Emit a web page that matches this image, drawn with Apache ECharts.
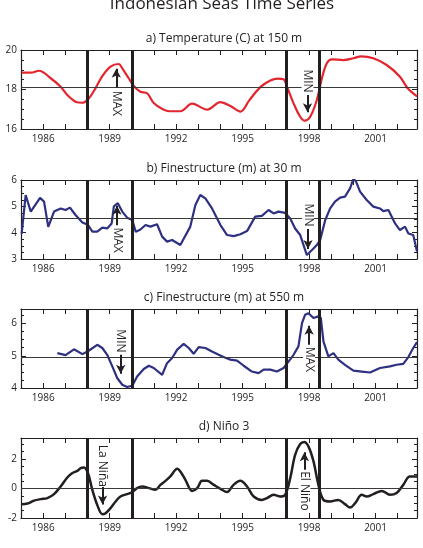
<!DOCTYPE html>
<html>
<head>
<meta charset="utf-8">
<script src="https://cdn.jsdelivr.net/npm/echarts@6/dist/echarts.min.js"></script>
<style>
  html, body { margin: 0; background: #fff; }
  #chart { width: 423px; height: 548px; }
</style>
</head>
<body>
<div id="chart"></div>
<script>
// a) temperature at 150 m
const tempYears = [1985.03, 1985.44, 1985.81, 1986.34, 1986.79, 1987.09, 1987.46, 1987.77, 1988.06, 1988.36,
    1988.67, 1989.04, 1989.41, 1989.57, 1989.86, 1990.09, 1990.39, 1990.69, 1991.0, 1991.4, 1991.7, 1992.19,
    1992.72, 1993.4, 1994.0, 1994.45, 1994.9, 1995.3, 1995.8, 1996.25, 1996.6, 1996.85, 1997.0, 1997.3,
    1997.6, 1997.8, 1998.05, 1998.35, 1998.58, 1998.8, 1999.03, 1999.55, 2000.0, 2000.35, 2000.9, 2001.5,
    2002.1, 2002.45, 2002.87];
const tempValues = [18.85, 18.85, 18.95, 18.57, 18.14, 17.72, 17.38, 17.33, 17.55, 18.06,
    18.68, 19.16, 19.29, 19.07, 18.57, 18.18, 17.89, 17.81, 17.3, 17.0, 16.9, 16.9,
    17.28, 16.98, 17.36, 17.16, 16.88, 17.45, 18.12, 18.46, 18.55, 18.52, 18.14, 17.3,
    16.62, 16.42, 16.62, 17.47, 18.57, 19.33, 19.53, 19.49, 19.58, 19.68, 19.58, 19.24,
    18.65, 18.06, 17.65];

// b) finestructure at 30 m
const fine30Years = [1985.03, 1985.21, 1985.44, 1985.86, 1986.04, 1986.23, 1986.49, 1986.79, 1987.01, 1987.21,
    1987.46, 1987.77, 1988.02, 1988.22, 1988.44, 1988.67, 1988.89, 1989.09, 1989.19, 1989.37, 1989.57, 1989.79,
    1990.02, 1990.18, 1990.39, 1990.62, 1990.84, 1991.14, 1991.37, 1991.59, 1991.82, 1992.19, 1992.64, 1992.87,
    1993.09, 1993.32, 1993.62, 1994.0, 1994.3, 1994.6, 1994.9, 1995.2, 1995.57, 1995.87, 1996.17, 1996.4,
    1996.62, 1996.92, 1997.15, 1997.37, 1997.6, 1997.9, 1998.13, 1998.35, 1998.5, 1998.73, 1998.95, 1999.17,
    1999.4, 1999.62, 1999.85, 2000.0, 2000.12, 2000.3, 2000.6, 2000.9, 2001.2, 2001.35, 2001.58, 2001.88,
    2002.1, 2002.33, 2002.48, 2002.7, 2002.87];
const fine30Values = [3.95, 5.43, 4.8, 5.32, 5.18, 4.22, 4.8, 4.92, 4.86, 4.95,
    4.67, 4.39, 4.3, 4.04, 4.04, 4.19, 4.16, 4.35, 5.0, 5.12, 4.8, 4.57,
    4.48, 4.03, 4.12, 4.29, 4.23, 4.32, 3.85, 3.66, 3.72, 3.53, 4.23, 5.05,
    5.43, 5.3, 4.92, 4.29, 3.91, 3.87, 3.94, 4.06, 4.61, 4.64, 4.86, 4.73,
    4.8, 4.75, 4.54, 4.16, 3.91, 3.15, 3.34, 3.53, 3.72, 4.48, 4.92, 5.18,
    5.33, 5.37, 5.68, 6.05, 5.94, 5.56, 5.24, 4.99, 4.92, 4.82, 4.86, 4.35,
    4.1, 4.23, 3.97, 3.91, 3.28];

// c) finestructure at 550 m
const fine550Years = [1986.64, 1987.01, 1987.39, 1987.77, 1988.02, 1988.44, 1988.67, 1988.89, 1989.12, 1989.34,
    1989.57, 1989.79, 1990.02, 1990.24, 1990.54, 1990.77, 1990.99, 1991.37, 1991.59, 1991.82, 1992.05, 1992.34,
    1992.57, 1992.79, 1993.02, 1993.32, 1993.62, 1993.92, 1994.14, 1994.45, 1994.75, 1995.05, 1995.42, 1995.72,
    1995.95, 1996.25, 1996.55, 1996.85, 1997.07, 1997.3, 1997.52, 1997.68, 1997.82, 1997.97, 1998.2, 1998.42,
    1998.53, 1998.65, 1998.87, 1999.1, 1999.32, 1999.62, 2000.0, 2000.38, 2000.75, 2001.2, 2001.65, 2001.95,
    2002.25, 2002.48, 2002.7, 2002.87];
const fine550Values = [5.08, 5.02, 5.2, 5.05, 5.14, 5.34, 5.24, 5.03, 4.67, 4.31,
    4.1, 4.03, 4.07, 4.36, 4.59, 4.69, 4.62, 4.41, 4.77, 4.93, 5.19, 5.37,
    5.24, 5.06, 5.27, 5.24, 5.13, 5.03, 4.96, 4.88, 4.85, 4.69, 4.51, 4.46,
    4.57, 4.57, 4.51, 4.62, 4.82, 5.03, 5.29, 6.01, 6.27, 6.32, 6.17, 6.22,
    6.17, 5.44, 4.98, 5.08, 4.88, 4.72, 4.54, 4.51, 4.48, 4.62, 4.67, 4.72,
    4.75, 4.96, 5.24, 5.42];

// d) Nino 3
const ninoYears = [1985.03, 1985.29, 1985.59, 1985.89, 1986.19, 1986.49, 1986.79, 1987.09, 1987.32, 1987.54,
    1987.69, 1987.84, 1988.02, 1988.22, 1988.44, 1988.67, 1988.82, 1989.04, 1989.27, 1989.49, 1989.79, 1990.02,
    1990.24, 1990.47, 1990.77, 1991.07, 1991.29, 1991.52, 1991.74, 1992.05, 1992.19, 1992.42, 1992.72, 1992.95,
    1993.17, 1993.4, 1993.7, 1994.0, 1994.3, 1994.59, 1994.9, 1995.2, 1995.5, 1995.87, 1996.1, 1996.4,
    1996.7, 1996.92, 1997.15, 1997.37, 1997.6, 1997.78, 1997.97, 1998.2, 1998.42, 1998.65, 1998.95, 1999.32,
    1999.62, 1999.85, 2000.08, 2000.38, 2000.6, 2000.9, 2001.28, 2001.65, 2001.95, 2002.25, 2002.55, 2002.87];
const ninoValues = [-1.06, -1.02, -0.82, -0.72, -0.65, -0.38, 0.14, 0.75, 1.05, 1.2,
    1.39, 1.43, 1.05, -0.09, -1.11, -1.74, -1.67, -1.33, -0.88, -0.54, -0.38, -0.24,
    0.03, 0.14, 0.03, -0.09, 0.25, 0.52, 0.82, 1.34, 1.16, 0.59, -0.16, 0.03,
    0.52, 0.52, 0.25, -0.02, -0.24, 0.25, 0.52, 0.14, -0.54, -0.77, -0.65, -0.43,
    -0.54, -0.43, 0.71, 2.29, 3.02, 3.16, 2.86, 1.84, 0.25, -0.77, -0.88, -0.77,
    -1.06, -1.29, -0.99, -0.43, -0.54, -0.38, -0.16, -0.43, -0.31, 0.25, 0.82, 0.82];

const panelTitles = ['a) Temperature (C) at 150 m', 'b) Finestructure (m) at 30 m',
    'c) Finestructure (m) at 550 m', 'd) Niño 3'];
const refValues = [18.11, 4.53, 4.94, 0];
const eventYears = [1988.0, 1990.0, 1996.95, 1998.45];

// annotation text + arrow, in data coordinates: [panel, label, year, textY, arrowFrom, arrowTo]
const notes = [
    [0, 'MAX', 1989.3, 17.3, 18.1, 19.05],
    [0, 'MIN', 1997.93, 18.43, 17.72, 16.85],
    [1, 'MAX', 1989.33, 3.72, 4.28, 5.02],
    [1, 'MIN', 1997.95, 4.67, 4.14, 3.38],
    [2, 'MAX', 1998.0, 4.89, 5.34, 5.93],
    [2, 'MIN', 1989.5, 5.46, 5.03, 4.44],
    [3, 'La Niña', 1988.68, 1.54, 0.12, -1.08],
    [3, 'El Niño', 1997.79, -0.16, 1.27, 2.47]
];

const panels = [
    { years: tempYears, values: tempValues, color: '#e3262e', width: 2.2, smooth: 0.35, min: 16, max: 20, interval: 2 },
    { years: fine30Years, values: fine30Values, color: '#2e3082', width: 2.2, smooth: false, min: 3, max: 6, interval: 1 },
    { years: fine550Years, values: fine550Values, color: '#2e3082', width: 2.2, smooth: false, min: 4, max: 6.45, interval: 1 },
    { years: ninoYears, values: ninoValues, color: '#231f20', width: 2.5, smooth: 0.35, min: -2, max: 3.43, interval: 2 }
];
const gridTops = [50, 180, 309, 438];
const gridHeights = [79, 79, 79, 80];

const ink = '#231f20';
const font = '"Open Sans", "Liberation Sans", sans-serif';

let chart = echarts.init(document.getElementById('chart'));

let grids = [], xAxes = [], yAxes = [], series = [], titles = [];

titles.push({
    text: 'Indonesian Seas Time Series',
    left: 217, top: -9, textAlign: 'center',
    textStyle: { fontFamily: font, fontSize: 17, fontWeight: 'normal', color: ink }
});

panels.forEach((p, i) => {
    grids.push({ left: 21, right: 6, top: gridTops[i], height: gridHeights[i] });
    titles.push({
        text: panelTitles[i],
        left: 219, top: gridTops[i] - 22, textAlign: 'center',
        textStyle: { fontFamily: font, fontSize: 12, fontWeight: 'normal', color: ink }
    });

    ['bottom', 'top'].forEach(pos => {
        xAxes.push({
            type: 'value', gridIndex: i, position: pos,
            min: 1985, max: 2002.87, interval: 1,
            axisLine: { show: true, onZero: false, lineStyle: { color: ink, width: 1.2 } },
            axisTick: { show: true, inside: true, length: 5, lineStyle: { color: ink } },
            axisLabel: {
                show: pos === 'bottom', margin: 5, color: ink, fontFamily: font, fontSize: 10,
                formatter: v => ((v - 1986) % 3 === 0 ? String(v) : '')
            },
            splitLine: { show: false }
        });
    });
    ['left', 'right'].forEach(pos => {
        yAxes.push({
            type: 'value', gridIndex: i, position: pos,
            min: p.min, max: p.max, interval: p.interval,
            axisLine: { show: true, onZero: false, lineStyle: { color: ink, width: 1.2 } },
            axisTick: { show: true, inside: true, length: 5, lineStyle: { color: ink } },
            minorTick: { show: true, splitNumber: 4, length: 3, lineStyle: { color: ink } },
            axisLabel: {
                show: pos === 'left', margin: 4, color: ink, fontFamily: font, fontSize: 10,
                showMaxLabel: p.max % p.interval === 0
            },
            splitLine: { show: false }
        });
    });

    let lines = [{ yAxis: refValues[i], lineStyle: { color: '#3a3a3a', width: 1, type: 'solid' } }];
    eventYears.forEach(y => lines.push({ xAxis: y, lineStyle: { color: ink, width: 3, type: 'solid' } }));
    notes.filter(n => n[0] === i).forEach(n => {
        lines.push([
            { coord: [n[2], n[4]], symbol: 'none' },
            { coord: [n[2], n[5]], symbol: 'arrow', symbolSize: [7, 9], lineStyle: { color: ink, width: 2, type: 'solid' } }
        ]);
    });

    series.push({
        type: 'line',
        xAxisIndex: 2 * i, yAxisIndex: 2 * i,
        data: p.years.map((y, k) => [y, p.values[k]]),
        showSymbol: false, smooth: p.smooth,
        lineStyle: { color: p.color, width: p.width },
        z: 3,
        markLine: {
            silent: true, symbol: 'none', animation: false,
            label: { show: false },
            lineStyle: { color: ink, width: 2, type: 'solid' },
            data: lines
        }
    });
});

chart.setOption({
    animation: false,
    title: titles,
    grid: grids,
    xAxis: xAxes,
    yAxis: yAxes,
    series: series
});

// rotated annotation labels placed through the series' own axes
let texts = notes.map(n => {
    let pt = chart.convertToPixel({ seriesIndex: n[0] }, [n[2], n[3]]);
    return {
        type: 'text', x: pt[0], y: pt[1], rotation: -Math.PI / 2, z: 10,
        style: {
            text: n[1], fill: ink, fontFamily: font, fontSize: 12,
            align: 'center', verticalAlign: 'middle',
            backgroundColor: '#fff'
        }
    };
});
chart.setOption({ graphic: texts });
</script>
</body>
</html>
